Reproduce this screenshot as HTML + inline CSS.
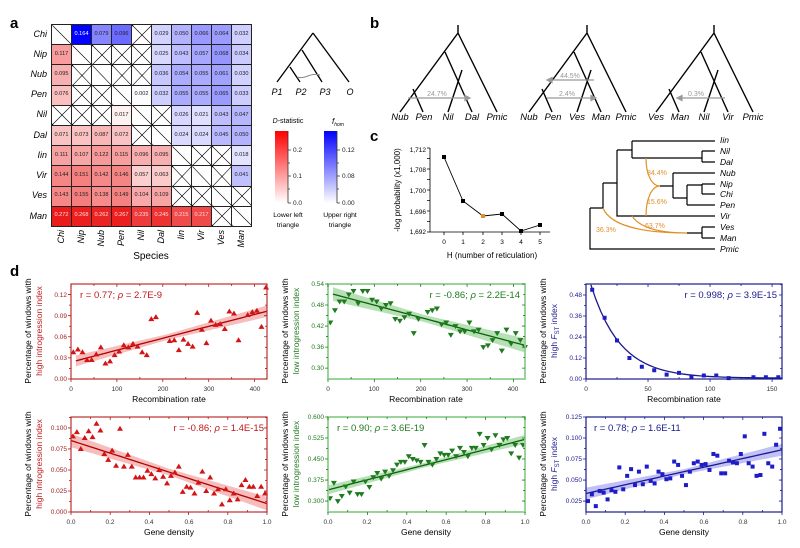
<!DOCTYPE html>
<html><head><meta charset="utf-8">
<style>
body{margin:0;width:800px;height:548px;background:#fff;position:relative;overflow:hidden;font-family:"Liberation Sans",sans-serif}
svg{position:absolute;left:0;top:0}
table.hm{position:absolute;left:51px;top:24px;border-collapse:collapse;table-layout:fixed}
table.hm td{width:19px;height:19.2px;padding:0;border:1px solid #222;font-size:5.6px;text-align:center;color:#222;line-height:1;overflow:hidden;white-space:nowrap}
td.d{background:linear-gradient(to top right,transparent calc(50% - .6px),#000 50%,transparent calc(50% + .6px))}
td.x{background:linear-gradient(to top right,transparent calc(50% - .6px),#000 50%,transparent calc(50% + .6px)),linear-gradient(to top left,transparent calc(50% - .6px),#000 50%,transparent calc(50% + .6px))}
</style></head><body>
<svg width="800" height="548" viewBox="0 0 800 548" font-family="Liberation Sans, sans-serif">
<g font-weight="bold" font-size="15"><text x="10" y="28">a</text><text x="370" y="28">b</text><text x="370" y="141">c</text><text x="10" y="276">d</text></g>
<!-- heatmap labels -->
<g font-size="9" font-style="italic" text-anchor="end">
<text x="47" y="37">Chi</text><text x="47" y="57">Nip</text><text x="47" y="77">Nub</text><text x="47" y="97">Pen</text><text x="47" y="117">Nil</text><text x="47" y="138">Dal</text><text x="47" y="158">Iin</text><text x="47" y="178">Vir</text><text x="47" y="198">Ves</text><text x="47" y="219">Man</text>
<text transform="translate(64,230) rotate(-90)">Chi</text><text transform="translate(84,230) rotate(-90)">Nip</text><text transform="translate(104,230) rotate(-90)">Nub</text><text transform="translate(124,230) rotate(-90)">Pen</text><text transform="translate(144,230) rotate(-90)">Nil</text><text transform="translate(164,230) rotate(-90)">Dal</text><text transform="translate(184,230) rotate(-90)">Iin</text><text transform="translate(204,230) rotate(-90)">Vir</text><text transform="translate(224,230) rotate(-90)">Ves</text><text transform="translate(244,230) rotate(-90)">Man</text>
</g>
<text x="151" y="259" font-size="10" text-anchor="middle">Species</text>
<!-- small tree -->
<g stroke="#000" stroke-width="1.3" fill="none"><path d="M313 33L277 82M302 50L322 82M290 67L300 82M313 33L349 82"/></g>
<path d="M297 77 C305 80 310 72 320 75" stroke="#888" fill="none" stroke-width="1"/>
<g font-size="9" font-style="italic" text-anchor="middle"><text x="277" y="95">P1</text><text x="301" y="95">P2</text><text x="325" y="95">P3</text><text x="350" y="95">O</text></g>
<!-- color bars -->
<defs><linearGradient id="gr" x1="0" y1="1" x2="0" y2="0"><stop offset="0" stop-color="#fff"/><stop offset="1" stop-color="#f00"/></linearGradient>
<linearGradient id="gb" x1="0" y1="1" x2="0" y2="0"><stop offset="0" stop-color="#fff"/><stop offset="1" stop-color="#00f"/></linearGradient></defs>
<rect x="275" y="131" width="13" height="72" fill="url(#gr)"/><rect x="324" y="131" width="13" height="72" fill="url(#gb)"/>
<g stroke="#333" stroke-width=".8"><path d="M288 131V203M288 150h3M288 176h3M288 203h3M288 163h2M288 189h2M337 131V203M337 150h3M337 176h3M337 203h3M337 163h2M337 189h2"/></g>
<g font-size="6.5" fill="#222"><text x="293" y="152">0.2</text><text x="293" y="178">0.1</text><text x="293" y="205">0.0</text><text x="342" y="152">0.12</text><text x="342" y="178">0.08</text><text x="342" y="205">0.00</text></g>
<text x="288" y="123" font-size="7" text-anchor="middle"><tspan font-style="italic">D</tspan>-statistic</text>
<text x="338" y="124" font-size="8" font-style="italic" text-anchor="middle">f<tspan font-size="5" dy="2">hom</tspan></text>
<g font-size="6.8" text-anchor="middle"><text x="288" y="217">Lower left</text><text x="288" y="227">triangle</text><text x="340" y="217">Upper right</text><text x="340" y="227">triangle</text></g>
<!-- b trees -->
<g id="trees" stroke="#000" stroke-width="1.4" fill="none"></g>
<g font-size="9.5" font-style="italic" text-anchor="middle">
<text x="400" y="120">Nub</text><text x="424" y="120">Pen</text><text x="448" y="120">Nil</text><text x="472" y="120">Dal</text><text x="497" y="120">Pmic</text>
<text x="529" y="120">Nub</text><text x="553" y="120">Pen</text><text x="577" y="120">Ves</text><text x="601" y="120">Man</text><text x="626" y="120">Pmic</text>
<text x="656" y="120">Ves</text><text x="680" y="120">Man</text><text x="704" y="120">Nil</text><text x="728" y="120">Vir</text><text x="753" y="120">Pmic</text>
</g>
<g stroke="#999" stroke-width="1.2" fill="#999">
<path d="M408 98H466" fill="none"/><path d="M470 98l-5-2.5v5z"/>
<path d="M594 80H551" fill="none"/><path d="M547 80l5-2.5v5z"/>
<path d="M547 98H592" fill="none"/><path d="M596 98l-5-2.5v5z"/>
<path d="M725 98H681" fill="none"/><path d="M677 98l5-2.5v5z"/>
</g>
<g font-size="7" fill="#999" text-anchor="middle"><text x="437" y="96">24.7%</text><text x="570" y="78">44.5%</text><text x="567" y="96">2.4%</text><text x="696" y="96">0.3%</text></g>
<!-- c line chart -->
<g stroke="#000" stroke-width=".8" fill="none"><path d="M430 148V232H550"/><path id="cticks"/></g>
<g font-size="6.5" text-anchor="end"><text x="426" y="152">1,712</text><text x="426" y="172">1,708</text><text x="426" y="193">1,700</text><text x="426" y="214">1,696</text><text x="426" y="234">1,692</text></g>
<g font-size="6.5" text-anchor="middle"><text x="444" y="244">0</text><text x="463" y="244">1</text><text x="483" y="244">2</text><text x="502" y="244">3</text><text x="521" y="244">4</text><text x="540" y="244">5</text></g>
<text x="492" y="258" font-size="8" text-anchor="middle">H (number of reticulation)</text>
<text transform="translate(400,190) rotate(-90)" font-size="8" text-anchor="middle">-log probability (x1,000)</text>
<path d="M444 157L463 201L483 216L502 214L521 231L540 225" stroke="#000" fill="none" stroke-width=".9"/>
<g fill="#000"><rect x="442" y="155" width="4" height="4"/><rect x="461" y="199" width="4" height="4"/><rect x="500" y="212" width="4" height="4"/><rect x="519" y="229" width="4" height="4"/><rect x="538" y="223" width="4" height="4"/></g>
<rect x="481" y="214" width="4" height="4" fill="#e0902a"/>
<!-- network -->
<g stroke="#000" stroke-width="1.2" fill="none">
<path d="M590 208V249H715M590 208H603V183M603 183H617M617 150V216H715M617 150H632M632 141V158M632 141H715M632 158H702M702 151V162M702 151H715M702 162H715"/>
<path d="M660 186H673M673 173V198M673 173H715M673 198H687M687 185V205M687 205H715M687 185H702M702 184V194M702 184H715M702 194H715"/>
<path d="M687 233H702M702 227V238M702 227H715M702 238H715"/>
</g>
<g stroke="#e0902a" stroke-width="1.2" fill="none">
<path d="M646 158C646 175 652 186 660 186M646 216C646 198 652 186 660 186"/>
<path d="M603 208C610 225 640 233 687 233M632 216C640 228 660 233 687 233"/>
</g>
<g font-size="7" fill="#e0902a"><text x="647" y="175">84.4%</text><text x="647" y="204">15.6%</text><text x="596" y="232">36.3%</text><text x="645" y="228">63.7%</text></g>
<g font-size="8.5" font-style="italic"><text x="720" y="143">Iin</text><text x="720" y="154">Nil</text><text x="720" y="165">Dal</text><text x="720" y="176">Nub</text><text x="720" y="187">Nip</text><text x="720" y="197">Chi</text><text x="720" y="208">Pen</text><text x="720" y="219">Vir</text><text x="720" y="230">Ves</text><text x="720" y="241">Man</text><text x="720" y="252">Pmic</text></g>
<!-- d panels -->
<g id="dp"></g>
<g font-size="6.5" text-anchor="end" fill="#a02020">
<text x="67" y="381">0.00</text><text x="67" y="360">0.03</text><text x="67" y="339">0.06</text><text x="67" y="318">0.09</text><text x="67" y="297">0.12</text>
<text x="67" y="514">0.000</text><text x="67" y="493">0.025</text><text x="67" y="472">0.050</text><text x="67" y="451">0.075</text><text x="67" y="430">0.100</text>
</g>
<g font-size="6.5" text-anchor="end" fill="#1e7b1e">
<text x="324" y="370">0.30</text><text x="324" y="349">0.36</text><text x="324" y="328">0.42</text><text x="324" y="307">0.48</text><text x="324" y="286">0.54</text>
<text x="324" y="503">0.300</text><text x="324" y="482">0.375</text><text x="324" y="461">0.450</text><text x="324" y="440">0.525</text><text x="324" y="419">0.600</text>
</g>
<g font-size="6.5" text-anchor="end" fill="#1a1a8c">
<text x="582" y="381">0.00</text><text x="582" y="360">0.12</text><text x="582" y="339">0.24</text><text x="582" y="318">0.36</text><text x="582" y="297">0.48</text>
<text x="582" y="503">0.025</text><text x="582" y="482">0.050</text><text x="582" y="461">0.075</text><text x="582" y="440">0.100</text><text x="582" y="419">0.125</text>
</g>
<g font-size="6.5" text-anchor="middle" fill="#333">
<text x="71" y="391">0</text><text x="117" y="391">100</text><text x="163" y="391">200</text><text x="209" y="391">300</text><text x="255" y="391">400</text>
<text x="71" y="524">0.0</text><text x="110" y="524">0.2</text><text x="149" y="524">0.4</text><text x="189" y="524">0.6</text><text x="228" y="524">0.8</text><text x="267" y="524">1.0</text>
<text x="328" y="391">0</text><text x="374" y="391">100</text><text x="421" y="391">200</text><text x="467" y="391">300</text><text x="513" y="391">400</text>
<text x="328" y="524">0.0</text><text x="367" y="524">0.2</text><text x="407" y="524">0.4</text><text x="446" y="524">0.6</text><text x="486" y="524">0.8</text><text x="525" y="524">1.0</text>
<text x="586" y="391">0</text><text x="648" y="391">50</text><text x="710" y="391">100</text><text x="772" y="391">150</text>
<text x="586" y="524">0.0</text><text x="625" y="524">0.2</text><text x="664" y="524">0.4</text><text x="704" y="524">0.6</text><text x="743" y="524">0.8</text><text x="782" y="524">1.0</text>
</g>
<g font-size="8.5" text-anchor="middle">
<text x="169" y="402">Recombination rate</text><text x="169" y="535">Gene density</text>
<text x="426" y="402">Recombination rate</text><text x="426" y="535">Gene density</text>
<text x="684" y="402">Recombination rate</text><text x="684" y="535">Gene density</text>
</g>
<g font-size="8.5" text-anchor="middle">
<text transform="translate(31,331) rotate(-90)">Percentage of windows with</text>
<text transform="translate(42,331) rotate(-90)" fill="#c01818">high introgression index</text>
<text transform="translate(31,464) rotate(-90)">Percentage of windows with</text>
<text transform="translate(42,464) rotate(-90)" fill="#c01818">high introgression index</text>
<text transform="translate(288,331) rotate(-90)">Percentage of windows with</text>
<text transform="translate(299,331) rotate(-90)" fill="#1e7b1e">low introgression index</text>
<text transform="translate(288,464) rotate(-90)">Percentage of windows with</text>
<text transform="translate(299,464) rotate(-90)" fill="#1e7b1e">low introgression index</text>
<text transform="translate(546,331) rotate(-90)">Percentage of windows with</text>
<text transform="translate(557,331) rotate(-90)" fill="#1a1a8c">high <tspan font-style="italic">F</tspan><tspan font-size="6" dy="2">ST</tspan><tspan dy="-2"> index</tspan></text>
<text transform="translate(546,464) rotate(-90)">Percentage of windows with</text>
<text transform="translate(557,464) rotate(-90)" fill="#1a1a8c">high <tspan font-style="italic">F</tspan><tspan font-size="6" dy="2">ST</tspan><tspan dy="-2"> index</tspan></text>
</g>
<g font-size="9.5">
<text x="80" y="298" fill="#c01818">r = 0.77; <tspan font-style="italic">ρ</tspan> = 2.7E-9</text>
<text x="264" y="431" fill="#c01818" text-anchor="end">r = -0.86; <tspan font-style="italic">ρ</tspan> = 1.4E-15</text>
<text x="520" y="298" fill="#1e7b1e" text-anchor="end">r = -0.86; <tspan font-style="italic">ρ</tspan> = 2.2E-14</text>
<text x="337" y="431" fill="#1e7b1e">r = 0.90; <tspan font-style="italic">ρ</tspan> = 3.6E-19</text>
<text x="777" y="298" fill="#1a1a8c" text-anchor="end">r = 0.998; <tspan font-style="italic">ρ</tspan> = 3.9E-15</text>
<text x="594" y="431" fill="#1a1a8c">r = 0.78; <tspan font-style="italic">ρ</tspan> = 1.6E-11</text>
</g>
</svg>
<table class="hm" id="hm">
<tr><td class="d"></td><td>0.164</td><td>0.079</td><td>0.096</td><td class="x"></td><td>0.029</td><td>0.050</td><td>0.066</td><td>0.064</td><td>0.032</td></tr>
<tr><td>0.117</td><td class="d"></td><td class="x"></td><td class="x"></td><td class="x"></td><td>0.025</td><td>0.043</td><td>0.057</td><td>0.068</td><td>0.034</td></tr>
<tr><td>0.095</td><td class="x"></td><td class="d"></td><td class="x"></td><td class="x"></td><td>0.036</td><td>0.054</td><td>0.055</td><td>0.061</td><td>0.030</td></tr>
<tr><td>0.076</td><td class="x"></td><td class="x"></td><td class="d"></td><td>0.002</td><td>0.032</td><td>0.055</td><td>0.055</td><td>0.065</td><td>0.033</td></tr>
<tr><td class="x"></td><td class="x"></td><td class="x"></td><td>0.017</td><td class="d"></td><td class="x"></td><td>0.026</td><td>0.021</td><td>0.043</td><td>0.047</td></tr>
<tr><td>0.071</td><td>0.073</td><td>0.087</td><td>0.072</td><td class="x"></td><td class="d"></td><td>0.024</td><td>0.024</td><td>0.045</td><td>0.050</td></tr>
<tr><td>0.111</td><td>0.107</td><td>0.122</td><td>0.115</td><td>0.096</td><td>0.095</td><td class="d"></td><td class="x"></td><td class="x"></td><td>0.018</td></tr>
<tr><td>0.144</td><td>0.151</td><td>0.142</td><td>0.146</td><td>0.057</td><td>0.063</td><td class="x"></td><td class="d"></td><td class="x"></td><td>0.041</td></tr>
<tr><td>0.143</td><td>0.155</td><td>0.138</td><td>0.149</td><td>0.104</td><td>0.109</td><td class="x"></td><td class="x"></td><td class="d"></td><td class="x"></td></tr>
<tr><td>0.272</td><td>0.268</td><td>0.262</td><td>0.267</td><td>0.235</td><td>0.245</td><td>0.215</td><td>0.217</td><td class="x"></td><td class="d"></td></tr>
</table>
<script>
(function(){
var rows=document.getElementById('hm').rows;
for(var i=0;i<10;i++)for(var j=0;j<10;j++){var c=rows[i].cells[j];if(c.className)continue;var v=parseFloat(c.textContent);
 if(j<i){var t=Math.min(v/0.28,1);c.style.background='rgb('+Math.round(255-20*t)+','+Math.round(255*(1-t)+20*t)+','+Math.round(255*(1-t)+20*t)+')';if(t>0.75)c.style.color='#fdd';}
 else{var t=Math.min(v/0.165,1);var g=Math.round(255*(1-t));c.style.background='rgb('+g+','+g+',255)';if(t>0.8)c.style.color='#fff';}}
var NS='http://www.w3.org/2000/svg';
function el(p,n,a){var e=document.createElementNS(NS,n);for(var k in a)e.setAttribute(k,a[k]);p.appendChild(e);return e;}
var tr=document.getElementById('trees');
[0,129,256].forEach(function(o){el(tr,'path',{d:'M'+(458+o)+' 25V33M'+(458+o)+' 33L'+(400+o)+' 112M'+(445+o)+' 52L'+(472+o)+' 112M'+(462+o)+' 70L'+(448+o)+' 112M'+(413+o)+' 89L'+(423+o)+' 112M'+(458+o)+' 33L'+(497+o)+' 112'});});
var ct='';for(var y=148;y<=232;y+=10.5)ct+='M430 '+y+'h-3';[444,463,483,502,521,540].forEach(function(x){ct+='M'+x+' 232v3';});
document.getElementById('cticks').setAttribute('d',ct);
var dp=document.getElementById('dp');
function panel(o){
 var X=function(v){return o.x0+(v-o.xd[0])/(o.xd[1]-o.xd[0])*(o.x1-o.x0)};
 var Y=function(v){return o.y1-(v-o.yd[0])/(o.yd[1]-o.yd[0])*(o.y1-o.y0)};
 var g=el(dp,'g',{});
 // band & line
 var N=40,up=[],lo=[],ln=[];
 for(var k=0;k<=N;k++){var xv=o.xd[0]+(o.lx[1]-o.xd[0])*k/N;if(xv<o.lx[0])continue;var yv=o.f(xv),b=o.bw?o.bw(xv):0;up.push(X(xv)+','+Y(yv+b));lo.unshift(X(xv)+','+Y(yv-b));ln.push(X(xv)+','+Y(yv));}
 if(o.bw)el(g,'polygon',{points:up.concat(lo).join(' '),fill:o.band});
 el(g,'polyline',{points:ln.join(' '),fill:'none',stroke:o.lc,'stroke-width':1.3});
 o.pts.forEach(function(p){var x=X(p[0]),y=Y(p[1]);if(y<o.y0)y=o.y0+2;
  if(o.m=='up')el(g,'path',{d:'M'+x+' '+(y-3)+'l3 5h-6z',fill:o.mc});
  else if(o.m=='dn')el(g,'path',{d:'M'+x+' '+(y+3)+'l3 -5h-6z',fill:o.mc});
  else el(g,'rect',{x:x-2,y:y-2,width:4,height:4,fill:o.mc});});
 el(g,'rect',{x:o.x0,y:o.y0,width:o.x1-o.x0,height:o.y1-o.y0,fill:'none',stroke:o.fc,'stroke-width':o.fw||1.2});
 var d='';o.xt.forEach(function(v){var x=X(v);d+='M'+x+' '+o.y1+'v3M'+x+' '+o.y0+'v3';});
 var sx=(o.xt[1]-o.xt[0])/2;for(var v=o.xt[0]+sx;v<o.xd[1];v+=2*sx){var x=X(v);d+='M'+x+' '+o.y0+'v2M'+x+' '+o.y1+'v-2';}
 o.yt.forEach(function(v){var y=Y(v);d+='M'+o.x0+' '+y+'h-3M'+o.x1+' '+y+'h-3';});
 var sy=(o.yt[1]-o.yt[0])/2;for(var v=o.yt[0]+sy;v<o.yd[1];v+=2*sy){var y=Y(v);d+='M'+o.x0+' '+y+'h-2M'+o.x1+' '+y+'h-2';}
 el(g,'path',{d:d,stroke:o.tc,'stroke-width':0.8,fill:'none'});
}
function lin(a,b,x0,x1){return function(x){return a+(b-a)*(x-x0)/(x1-x0)}}
var gd=function(a){return a.map(function(y,i){return [0.01+0.02*i,y]})};
var R={mc:'#d41414',lc:'#b00000',band:'rgba(235,90,90,0.4)',fc:'#c03030',tc:'#a02020'};
var G={mc:'#1e7b1e',lc:'#0f5f0f',band:'rgba(70,180,70,0.4)',fc:'#8fd08f',tc:'#1e7b1e',fw:1.8};
var B={mc:'#1c1cc8',lc:'#1a1a8c',band:'rgba(100,100,235,0.4)',fc:'#1a1a8c',tc:'#1a1a8c'};
function m(a,b){for(var k in b)a[k]=b[k];return a;}
panel(m({x0:71,x1:267,y0:284,y1:379,xd:[0,427],yd:[0,0.135],lx:[2,427],xt:[0,100,200,300,400],yt:[0,0.03,0.06,0.09,0.12],m:'up',
 f:lin(0.024,0.096,0,425),bw:function(x){return 0.004+Math.abs(x-210)/210*0.004},
 pts:[[5,.038],[15,.042],[25,.038],[35,.027],[45,.027],[55,.035],[65,.045],[75,.022],[85,.025],[95,.034],[105,.039],[115,.048],[125,.045],[135,.05],[145,.046],[155,.038],[165,.034],[175,.085],[185,.088],[215,.054],[225,.055],[235,.041],[245,.056],[255,.05],[265,.046],[275,.094],[285,.07],[295,.051],[305,.083],[315,.077],[325,.078],[335,.071],[345,.096],[355,.093],[365,.055],[385,.091],[395,.095],[405,.097],[415,.074],[425,.13]]},R));
panel(m({x0:71,x1:267,y0:417,y1:512,xd:[0,1],yd:[0,0.113],lx:[0,1],xt:[0,.2,.4,.6,.8,1],yt:[0,.025,.05,.075,.1],m:'up',
 f:lin(0.085,0.010,0,1),bw:function(x){return 0.004+Math.abs(x-0.5)*0.008},
 pts:gd([.09,.095,.075,.088,.096,.089,.105,.097,.069,.062,.073,.055,.099,.054,.068,.054,.041,.041,.041,.049,.045,.04,.05,.042,.034,.043,.047,.054,.024,.030,.029,.022,.035,.048,.025,.041,.022,.027,.009,.027,.014,.022,.015,.032,.038,.030,.030,.019,.030,.022])},R));
panel(m({x0:328,x1:525,y0:284,y1:379,xd:[0,425],yd:[0.269,0.54],lx:[2,425],xt:[0,100,200,300,400],yt:[.30,.36,.42,.48,.54],m:'dn',
 f:lin(0.515,0.365,0,425),bw:function(x){return 0.01+Math.abs(x-210)/210*0.01},
 pts:[[5,.43],[15,.465],[25,.49],[35,.49],[45,.51],[55,.52],[65,.485],[75,.52],[85,.52],[95,.495],[105,.49],[115,.47],[125,.48],[135,.485],[145,.44],[155,.435],[165,.445],[175,.455],[185,.4],[195,.44],[215,.46],[225,.465],[235,.47],[245,.425],[255,.43],[265,.395],[275,.42],[285,.405],[295,.405],[305,.43],[315,.405],[325,.41],[335,.36],[345,.365],[355,.38],[365,.4],[375,.35],[385,.41],[395,.37],[405,.4],[415,.38],[425,.36]]},G));
panel(m({x0:328,x1:525,y0:417,y1:512,xd:[0,1],yd:[0.261,0.6],lx:[0,1],xt:[0,.2,.4,.6,.8,1],yt:[.3,.375,.45,.525,.6],m:'dn',
 f:lin(0.34,0.52,0,1),bw:function(x){return 0.008+Math.abs(x-0.5)*0.016},
 pts:gd([.31,.365,.3,.318,.352,.33,.37,.325,.325,.37,.35,.385,.40,.38,.405,.39,.41,.43,.44,.44,.46,.45,.445,.44,.50,.44,.43,.45,.47,.465,.465,.48,.46,.49,.475,.46,.49,.49,.54,.50,.525,.485,.535,.50,.52,.525,.47,.50,.455,.50])},G));
panel(m({x0:586,x1:782,y0:284,y1:379,xd:[0,158],yd:[0,0.543],lx:[3.5,158],xt:[0,50,100,150],yt:[0,.12,.24,.36,.48],m:'sq',
 f:function(x){return 0.63*Math.exp(-x/23.7)+0.005},
 pts:[[5,.51],[15,.35],[25,.22],[35,.12],[45,.07],[55,.05],[65,.025],[75,.035],[85,.01],[95,.02],[105,.02],[115,.005],[135,.01],[145,.01],[155,.01]]},B));
panel(m({x0:586,x1:782,y0:417,y1:512,xd:[0,1],yd:[0.012,0.125],lx:[0,1],xt:[0,.2,.4,.6,.8,1],yt:[.025,.05,.075,.1,.125],m:'sq',
 f:lin(0.034,0.086,0,1),bw:function(x){return 0.003+Math.abs(x-0.5)*0.008},
 pts:gd([.025,.033,.019,.037,.035,.027,.038,.036,.065,.039,.055,.063,.044,.06,.045,.066,.049,.046,.06,.057,.051,.052,.072,.068,.055,.044,.06,.07,.072,.068,.069,.062,.081,.079,.058,.058,.073,.071,.07,.081,.102,.07,.066,.055,.056,.105,.07,.066,.092,.111])},B));
})();
</script>
</body></html>
